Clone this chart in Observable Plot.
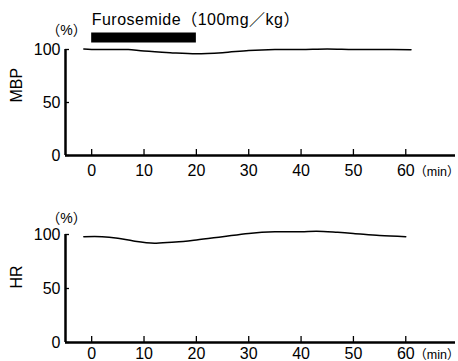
<!DOCTYPE html>
<html>
<head>
<meta charset="utf-8">
<script src="https://cdn.jsdelivr.net/npm/d3@7"></script>
<script src="https://cdn.jsdelivr.net/npm/@observablehq/plot@0.6"></script>
<style>
  html, body { margin: 0; padding: 0; background: #fff; }
  #chart { width: 458px; }
  #chart svg { display: block; }
</style>
</head>
<body>
<div id="chart"></div>
<script>
// ---- data ----
const xTicks = [0, 10, 20, 30, 40, 50, 60];
const yTicks = [0, 50, 100];

const mbpTime  = [-1.5, 0, 5, 7, 10, 15, 20, 25, 30, 35, 40, 45, 50, 55, 61];
const mbpValue = [100.5, 100, 100, 100, 98.5, 97, 96, 97, 99, 100, 100, 100.5, 100, 100, 99.7];

const hrTime  = [-1.5, 2, 5, 8, 12, 16, 20, 25, 30, 35, 40, 43, 47, 50, 55, 60];
const hrValue = [98, 98, 96.5, 94, 92, 93, 95, 98, 101, 102.5, 102.5, 103, 102, 101, 99, 98];

const doseStart = [0];
const doseEnd = [20];
const doseLabel = ["Furosemide（100mg／kg）"];

const panelLabels = ["MBP", "HR"];
const unitLabel = "（%）";
const timeUnit = "（min）";

// ---- build tables ----
const mbp = mbpTime.map((t, i) => ({t, v: mbpValue[i]}));
const hr = hrTime.map((t, i) => ({t, v: hrValue[i]}));
const dose = doseStart.map((s, i) => ({start: s, end: doseEnd[i], label: doseLabel[i]}));

const font = "'Liberation Sans', Arial, 'Noto Sans CJK JP', sans-serif";

function panel(data, name, opts) {
  const marks = [
    Plot.ruleY([0], {strokeWidth: 2.5}),
    Plot.ruleX([-5], {y1: 0, y2: 100, strokeWidth: 2.5}),
    Plot.axisX(xTicks, {tickSize: 0, tickPadding: opts.xPad, label: null, fontSize: 16}),
    Plot.axisX(xTicks, {tickSize: 6, dy: -6, text: null, label: null, strokeWidth: 1.3}),
    Plot.axisY(yTicks, {tickSize: 0, tickPadding: 5, label: null, fontSize: 16}),
    Plot.axisY(yTicks, {tickSize: 4, dx: 4, text: null, label: null, strokeWidth: 1.3}),
    Plot.line(data, {x: "t", y: "v", curve: "catmull-rom", strokeWidth: 1.5, stroke: "black"}),
    Plot.text([name], {frameAnchor: "left", dx: -49, rotate: -90, fontSize: 16}),
    Plot.text([unitLabel], {frameAnchor: "top-left", dx: 1, dy: opts.pctDy, textAnchor: "middle", lineAnchor: "middle", fontSize: 14}),
    Plot.text([timeUnit], {frameAnchor: "bottom-right", dx: 4, dy: opts.minDy, textAnchor: "end", lineAnchor: "middle", fontSize: 12.5})
  ];
  if (opts.dose) {
    marks.push(
      Plot.ruleY(dose, {x1: "start", x2: "end", y: () => 100, dy: -12, strokeWidth: 10, stroke: "black"}),
      Plot.text(dose, {x: "start", frameAnchor: "top", dy: -30, lineAnchor: "middle", text: "label", textAnchor: "start", fontSize: 16})
    );
  }
  const svg = Plot.plot({
    width: 458,
    height: opts.height,
    marginLeft: 65,
    marginRight: 3,
    marginTop: opts.mt,
    marginBottom: opts.mb,
    x: {domain: [-5, 69.5]},
    y: {domain: [0, 100]},
    style: {fontFamily: font, fontSize: "16px", background: "white", color: "black", overflow: "visible"},
    marks
  });
  d3.select(svg).selectAll("text").filter(function() {
    return this.textContent.startsWith("Furosemide");
  }).style("letter-spacing", "0.5px");
  return svg;
}

const root = document.getElementById("chart");
root.appendChild(panel(mbp, panelLabels[0], {height: 180, mt: 49, mb: 25, xPad: 9, pctDy: -19, minDy: 16, dose: true}));
root.appendChild(panel(hr, panelLabels[1], {height: 181, mt: 54, mb: 19, xPad: 5, pctDy: -16, minDy: 12, dose: false}));
</script>
</body>
</html>
